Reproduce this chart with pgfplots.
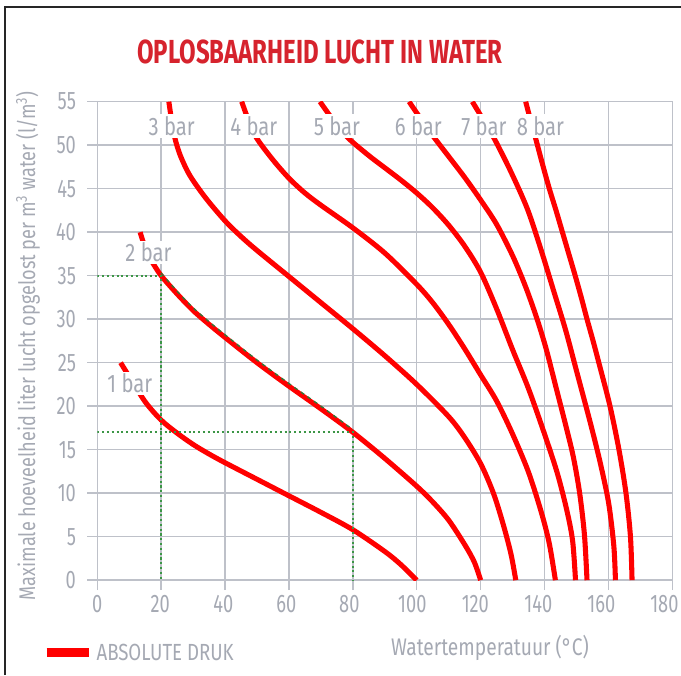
\documentclass[border=0pt]{standalone}
\usepackage{fontspec}
\setmainfont{Fira Sans}[FakeStretch=0.8]
\newfontfamily\titlefont{Fira Sans}[FakeStretch=0.72]
\newfontfamily\narrowfont{Fira Sans}[FakeStretch=0.72]
\usepackage{pgfplots}
\pgfplotsset{compat=1.18}
\definecolor{curvered}{RGB}{255,0,0}
\definecolor{titlered}{RGB}{214,35,45}
\definecolor{txtgray}{RGB}{165,169,179}
\definecolor{gridgray}{RGB}{190,193,201}
\definecolor{guidegreen}{RGB}{60,150,70}
\begin{document}
\begin{tikzpicture}[x=0.75pt,y=0.75pt]
\path[use as bounding box] (0,0) rectangle (681,675);
\draw[line width=1.9pt, black!85] (5,0) -- (5,668) -- (681,668);
\node[text=titlered, font=\titlefont\bfseries\fontsize{25}{25}\selectfont] at (320,623) {OPLOSBAARHEID LUCHT IN WATER};
\begin{axis}[
  at={(72.975pt,71.1pt)}, anchor=south west,
  scale only axis, width=431.25pt, height=358.9pt,
  xmin=0, xmax=180, ymin=0, ymax=55,
  xtick={0,20,...,180}, ytick={0,5,...,55},
  grid=major,
  major grid style={gridgray, line width=1.1pt},
  axis line style={gridgray, line width=1.1pt},
  tick style={gridgray, line width=1.1pt},
  tick align=outside,
  xtick pos=bottom, ytick pos=left,
  major tick length=7.5pt,
  /pgf/number format/assume math mode=true,
  ticklabel style={text=txtgray, font=\narrowfont\fontsize{19}{19}\selectfont},
  xticklabel style={xshift={-0.66pt*\ticknum}},
  yticklabel style={xshift=-5pt},
  ylabel={Maximale hoeveelheid liter lucht opgelost per m\textsuperscript{3} water (l/m\textsuperscript{3})},
  ylabel style={at={(axis description cs:-0.1205,0.49)}, anchor=center, text=txtgray, font=\fontsize{17}{17}\selectfont},
  xlabel={Watertemperatuur (°C)},
  xlabel style={at={(axis description cs:0.683,-0.1417)}, anchor=center, text=txtgray, font=\fontsize{18}{18}\selectfont},
  legend style={at={(axis description cs:-0.0962,-0.152)}, anchor=west, draw=none, fill=none, inner sep=0pt,
    font=\fontsize{17.5}{17.5}\selectfont, text=txtgray, nodes={inner sep=2pt}},
  legend image code/.code={\draw[#1, line width=6.75pt] (0pt,0pt) -- (32pt,0pt);},
  every axis plot/.append style={curvered, line width=3.8pt, smooth},
]
\addlegendimage{curvered}
\addlegendentry{ABSOLUTE DRUK}
% 1 bar
\addplot[forget plot] coordinates {(7.3,25) (10,23.4) (15,20.5) (20,18.4) (25,16.9) (30,15.6) (35,14.5) (40,13.5) (50,11.6) (60,9.7) (70,7.8) (80,5.8) (90,3.3) (95,1.8) (100,0)};
% 2 bar
\addplot[forget plot] coordinates {(13.4,40) (15,38.2) (17,36.7) (20,35) (25,32.9) (30,31.0) (35,29.4) (40,27.9) (50,25) (60,22.3) (70,19.7) (80,17) (90,14) (100,10.8) (105,9) (110,6.9) (115,4.1) (118,2.1) (120,0)};
% 3 bar
\addplot[forget plot] coordinates {(22.4,55) (23.2,53) (24.3,50.8) (26,48.8) (29,46.5) (34,43.9) (40,41.3) (45,39.5) (50,37.9) (60,34.9) (70,31.9) (80,28.9) (90,25.8) (100,22.5) (110,18.8) (115,16.4) (120,13.4) (124,10) (127,6.5) (129.5,3) (131,0)};
% 4 bar
\addplot[forget plot] coordinates {(45.2,55) (47.4,52.8) (49.9,50.8) (55,48.3) (60,46.2) (65,44.5) (70,43.1) (80,40.5) (90,37.6) (100,34.0) (105,31.9) (110,29.4) (115,26.6) (120,23.6) (125,20.6) (130,16.8) (135,12.4) (139,7.8) (141.5,4.2) (143.4,0)};
% 5 bar
\addplot[forget plot] coordinates {(69.7,55) (74,52.8) (78.6,50.8) (85,48.8) (90,47.4) (95,46.0) (100,44.5) (105,42.8) (110,40.8) (115,38.4) (120,35.4) (125,31.2) (130,26.5) (135,22) (140,16.8) (144,12.3) (147,8) (148.8,4.5) (149.7,0)};
% 6 bar
\addplot[forget plot] coordinates {(97.6,55) (101.5,52.9) (105.4,50.9) (110,48.7) (115,46.3) (120,43.7) (125,40.9) (130,37.3) (134,33.8) (137.5,30.2) (140.5,26.6) (143.5,22.3) (146.5,18) (149,14.2) (151,10) (152.5,5.2) (153.3,0)};
% 7 bar
\addplot[forget plot] coordinates {(117.4,55) (121,52.8) (124.2,50.8) (129.4,47) (134.6,42.7) (138.8,38.1) (142.9,33.2) (146.6,28.75) (150.2,23.8) (154.4,18) (157.5,13.4) (160.1,8.8) (161.7,3.9) (162.2,0)};
% 8 bar
\addplot[forget plot] coordinates {(134.1,55) (135.6,52.9) (137.2,50.8) (139.3,47.9) (141.5,45) (143.6,42.5) (145.6,40) (147.6,37.5) (149.6,35) (151.5,32.5) (153.3,30) (155.2,27.5) (157,25) (160.5,20) (163.3,15) (165.5,10) (166.9,5) (167.4,0)};
% green guides
\addplot[forget plot, guidegreen, line width=1.6pt, dotted, sharp plot] coordinates {(0,35) (20,35) (20,0)};
\addplot[forget plot, guidegreen, line width=1.6pt, dotted, sharp plot] coordinates {(0,17) (80,17) (80,0)};
\addplot[forget plot, guidegreen!80!black, line width=1pt, dashed] coordinates {(20,35.3) (25,33.2) (30,31.3) (35,29.7) (40,28.2) (50,25.3) (60,22.6) (70,20) (80,17.3)};
% labels
\tikzset{lbl/.style={fill=white, inner sep=1.5pt, text=txtgray, font=\fontsize{19}{19}\selectfont}}
\node[lbl] at (axis cs:10.2,22.6) {1 bar};
\node[lbl] at (axis cs:16,37.7) {2 bar};
\node[lbl] at (axis cs:23.3,52.2) {3 bar};
\node[lbl] at (axis cs:49,52.2) {4 bar};
\node[lbl] at (axis cs:75,52.2) {5 bar};
\node[lbl] at (axis cs:100.5,52.2) {6 bar};
\node[lbl] at (axis cs:121,52.2) {7 bar};
\node[lbl] at (axis cs:138.7,52.2) {8 bar};
\end{axis}
\end{tikzpicture}
\end{document}
